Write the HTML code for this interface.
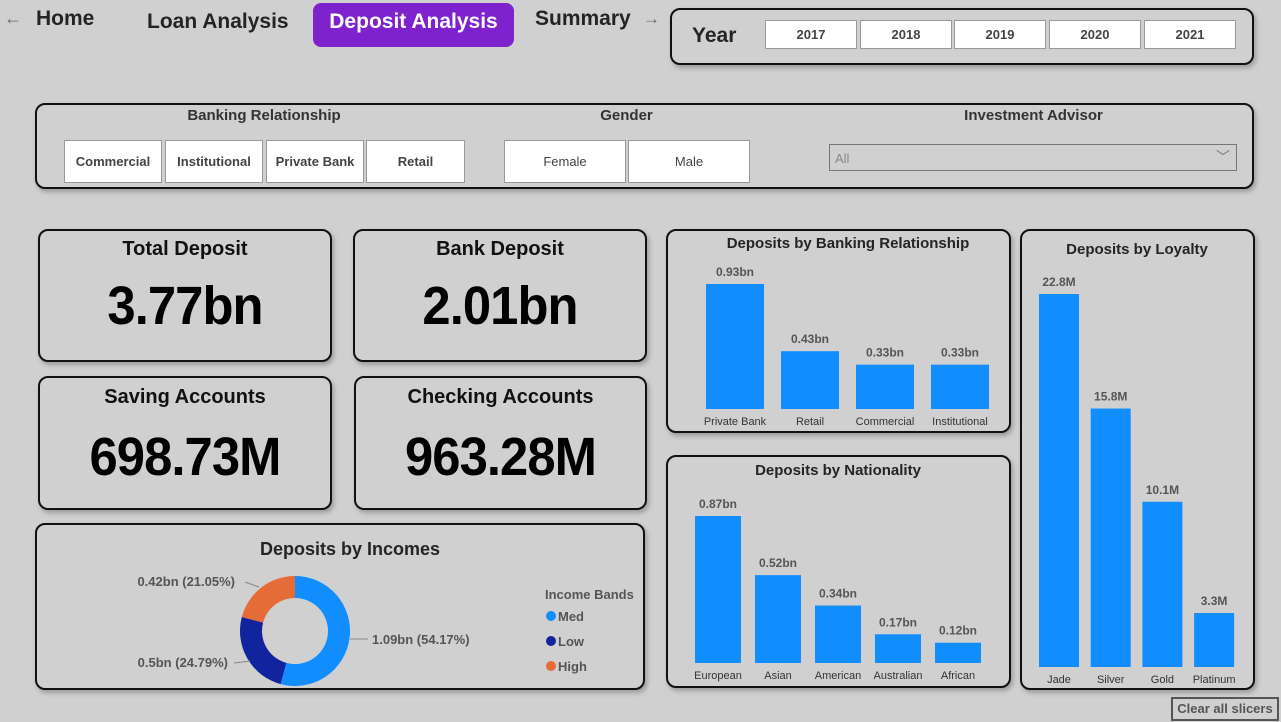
<!DOCTYPE html>
<html><head><meta charset="utf-8">
<style>
*{box-sizing:border-box;margin:0;padding:0}
body{width:1281px;height:722px;background:#d0d0d0;font-family:"Liberation Sans",sans-serif;position:relative;overflow:hidden;color:#252423}
.abs{position:absolute}
.card{position:absolute;border:2px solid #111;border-radius:10px;background:#d0d0d0;box-shadow:2px 3px 5px rgba(0,0,0,.25)}
.nav{position:absolute;font-weight:bold;font-size:21px;color:#252423}
.btn{position:absolute;background:#fff;border:1px solid #999;font-size:13px;font-weight:bold;color:#444;display:flex;align-items:center;justify-content:center}
.kt{position:absolute;width:100%;text-align:center;font-weight:bold;font-size:20px;color:#111}
.kv{position:absolute;width:100%;text-align:center;font-weight:bold;font-size:54px;color:#000;letter-spacing:-1px;transform:scaleX(0.94)}
.st{position:absolute;font-weight:bold;font-size:15px;color:#333;text-align:center}
</style></head><body>
<div class="abs" style="left:4px;top:8px;font-size:18px;color:#666">←</div>
<div class="nav" style="left:36px;top:7px">Home</div>
<div class="nav" style="left:147px;top:10px">Loan Analysis</div>
<div class="abs" style="left:313px;top:3px;width:201px;height:44px;background:#7d22cc;border-radius:8px;color:#fff;font-weight:bold;font-size:21px;text-align:center;line-height:38px">Deposit Analysis</div>
<div class="nav" style="left:535px;top:7px">Summary</div>
<div class="abs" style="left:643px;top:9px;font-size:17px;color:#666">→</div>

<div class="card" style="left:670px;top:8px;width:584px;height:57px">
<div class="abs" style="left:20px;top:14px;font-weight:bold;font-size:21px">Year</div>
</div>
<div class="btn" style="left:765px;top:20px;width:92px;height:29px">2017</div>
<div class="btn" style="left:860px;top:20px;width:92px;height:29px">2018</div>
<div class="btn" style="left:954px;top:20px;width:92px;height:29px">2019</div>
<div class="btn" style="left:1049px;top:20px;width:92px;height:29px">2020</div>
<div class="btn" style="left:1144px;top:20px;width:92px;height:29px">2021</div>

<div class="card" style="left:35px;top:103px;width:1219px;height:86px"></div>
<div class="st" style="left:64px;top:107px;width:400px">Banking Relationship</div>
<div class="st" style="left:504px;top:107px;width:245px">Gender</div>
<div class="st" style="left:830px;top:107px;width:407px">Investment Advisor</div>
<div class="btn" style="left:64px;top:140px;width:98px;height:43px">Commercial</div>
<div class="btn" style="left:165px;top:140px;width:98px;height:43px">Institutional</div>
<div class="btn" style="left:266px;top:140px;width:98px;height:43px">Private Bank</div>
<div class="btn" style="left:366px;top:140px;width:99px;height:43px">Retail</div>
<div class="btn" style="left:504px;top:140px;width:122px;height:43px;font-weight:normal">Female</div>
<div class="btn" style="left:628px;top:140px;width:122px;height:43px;font-weight:normal">Male</div>
<div class="abs" style="left:829px;top:144px;width:408px;height:27px;border:1px solid #777;font-size:13px;color:#888;padding:6px 5px">All<span style="position:absolute;right:6px;top:2px;font-size:14px;color:#777">﹀</span></div>

<div class="card" style="left:38px;top:229px;width:294px;height:133px"><div class="kt" style="top:7px">Total Deposit</div><div class="kv" style="top:44px">3.77bn</div></div>
<div class="card" style="left:353px;top:229px;width:294px;height:133px"><div class="kt" style="top:7px">Bank Deposit</div><div class="kv" style="top:44px">2.01bn</div></div>
<div class="card" style="left:38px;top:376px;width:294px;height:134px"><div class="kt" style="top:8px">Saving Accounts</div><div class="kv" style="top:48px">698.73M</div></div>
<div class="card" style="left:354px;top:376px;width:293px;height:134px"><div class="kt" style="top:8px">Checking Accounts</div><div class="kv" style="top:48px">963.28M</div></div>

<div class="card" style="left:35px;top:523px;width:610px;height:167px"></div>
<div class="card" style="left:666px;top:229px;width:345px;height:204px"></div>
<div class="card" style="left:666px;top:455px;width:345px;height:233px"></div>
<div class="card" style="left:1020px;top:229px;width:235px;height:461px"></div>

<svg id="chart" class="abs" style="left:0;top:0" width="1281" height="722" font-family="Liberation Sans, sans-serif"></svg>
<div class="abs" style="left:1171px;top:697px;width:108px;height:24px;border:2px solid #555;font-size:13px;font-weight:bold;color:#555;text-align:center;line-height:20px;background:#d0d0d0">Clear all slicers</div>

<script>
const brCats=["Private Bank","Retail","Commercial","Institutional"];
const brVals=[0.93,0.43,0.33,0.33];
const brLabels=["0.93bn","0.43bn","0.33bn","0.33bn"];
const natCats=["European","Asian","American","Australian","African"];
const natVals=[0.87,0.52,0.34,0.17,0.12];
const natLabels=["0.87bn","0.52bn","0.34bn","0.17bn","0.12bn"];
const loyCats=["Jade","Silver","Gold","Platinum"];
const loyVals=[22.8,15.8,10.1,3.3];
const loyLabels=["22.8M","15.8M","10.1M","3.3M"];
const incCats=["Med","Low","High"];
const incVals=[1.09,0.5,0.42];
const incLabels=["1.09bn (54.17%)","0.5bn (24.79%)","0.42bn (21.05%)"];
const incColors=["#118dff","#12239e","#e66c37"];

const svg=document.getElementById('chart');
const NS="http://www.w3.org/2000/svg";
function mk(tag,attrs,parent){const e=document.createElementNS(NS,tag);for(const k in attrs)e.setAttribute(k,attrs[k]);(parent||svg).appendChild(e);return e;}
function txt(x,y,s,size,weight,fill,anchor,name){const t=mk('text',{x:x,y:y,'font-size':size,'font-weight':weight,fill:fill,'text-anchor':anchor||'middle'});t.textContent=s;


return t;}

function barChart(cfg){
  txt(cfg.cx,cfg.titleY,cfg.title,15,'bold','#252423','middle',cfg.name+'-title');
  const max=Math.max(...cfg.vals);
  const yScale=v=>cfg.base-(v/max)*cfg.hMax;
  cfg.cats.forEach((c,i)=>{
    const x=cfg.x0+i*cfg.step;
    const y=yScale(cfg.vals[i]);
    const r=mk('rect',{x:x,y:y,width:cfg.bw,height:cfg.base-y,fill:'#118dff'});
    
    
    txt(x+cfg.bw/2,y-8,cfg.labels[i],12,'bold','#555','middle',cfg.name+'-value-label');
    txt(x+cfg.bw/2,cfg.base+16,c,11,'normal','#333','middle',cfg.name+'-category-label');
  });
}
barChart({title:"Deposits by Banking Relationship",name:'banking',cx:848,titleY:248,cats:brCats,vals:brVals,labels:brLabels,x0:706,step:75,bw:58,base:409,hMax:125});
barChart({title:"Deposits by Nationality",name:'nationality',cx:838,titleY:475,cats:natCats,vals:natVals,labels:natLabels,x0:695,step:60,bw:46,base:663,hMax:147});
barChart({title:"Deposits by Loyalty",name:'loyalty',cx:1137,titleY:254,cats:loyCats,vals:loyVals,labels:loyLabels,x0:1039,step:51.7,bw:40,base:667,hMax:373});

txt(350,555,"Deposits by Incomes",18,'bold','#252423','middle','incomes-title');
const cx=295,cy=631,R=55,r=33;
const tot=incVals.reduce((a,b)=>a+b,0);
let a0=0;
const labelPos=[[372,644,'start'],[228,667,'end'],[235,586,'end']];
incVals.forEach((v,i)=>{
  const a1=a0+v/tot*2*Math.PI;
  const p=(a,rad)=>[cx+rad*Math.sin(a),cy-rad*Math.cos(a)];
  const [x1,y1]=p(a0,R),[x2,y2]=p(a1,R),[x3,y3]=p(a1,r),[x4,y4]=p(a0,r);
  const lg=(a1-a0)>Math.PI?1:0;
  const path=mk('path',{d:`M${x1},${y1}A${R},${R} 0 ${lg} 1 ${x2},${y2}L${x3},${y3}A${r},${r} 0 ${lg} 0 ${x4},${y4}Z`,fill:incColors[i]});
  
  
  const lp=labelPos[i];
  txt(lp[0],lp[1],incLabels[i],13,'bold','#555',lp[2],'donut-label');
  a0=a1;
});
mk('line',{x1:350,y1:639,x2:368,y2:639,stroke:'#888'});
mk('line',{x1:234,y1:663,x2:250,y2:661,stroke:'#888'});
mk('line',{x1:245,y1:582,x2:259,y2:587,stroke:'#888'});
txt(545,599,"Income Bands",13,'bold','#555','start','legend-title');
incCats.forEach((c,i)=>{
  const y=616+i*25;
  const d=mk('circle',{cx:551,cy:y,r:5,fill:incColors[i]});
  
  
  txt(558,y+5,c,13,'bold','#555','start','legend-entry');
});
</script>
</body></html>
